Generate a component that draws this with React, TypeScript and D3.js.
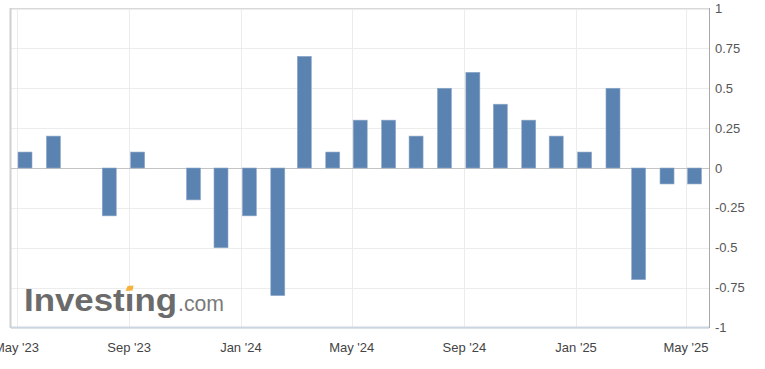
import React, { useLayoutEffect, useRef, useState } from "react";
import * as d3 from "d3";

const months: string[] = [
  "2023-05", "2023-06", "2023-07", "2023-08", "2023-09", "2023-10", "2023-11", "2023-12",
  "2024-01", "2024-02", "2024-03", "2024-04", "2024-05", "2024-06", "2024-07", "2024-08",
  "2024-09", "2024-10", "2024-11", "2024-12", "2025-01", "2025-02", "2025-03", "2025-04", "2025-05",
];
const values: number[] = [
  0.1, 0.2, 0, -0.3, 0.1, 0, -0.2, -0.5,
  -0.3, -0.8, 0.7, 0.1, 0.3, 0.3, 0.2, 0.5,
  0.6, 0.4, 0.3, 0.2, 0.1, 0.5, -0.7, -0.1, -0.1,
];
const yTicks: number[] = [1, 0.75, 0.5, 0.25, 0, -0.25, -0.5, -0.75, -1];
const xTickDates: string[] = ["2023-05", "2023-09", "2024-01", "2024-05", "2024-09", "2025-01", "2025-05"];
const xTickLabels: string[] = ["May '23", "Sep '23", "Jan '24", "May '24", "Sep '24", "Jan '25", "May '25"];

const W = 765;
const H = 369;
const left = 11;
const right = 709;
const top = 8.5;
const bottom = 327.5;

const parse = d3.timeParse("%Y-%m");

export default function App() {
  const x = d3
    .scaleTime()
    .domain([parse("2023-05") as Date, parse("2025-05") as Date])
    .range([16.5, 686]);
  const y = d3.scaleLinear().domain([-1, 1]).range([bottom, top]);
  const barW = 14;
  const font = "'Liberation Sans', Arial, sans-serif";

  const wmRef = useRef<SVGTextElement>(null);
  const [dotX, setDotX] = useState(127);
  useLayoutEffect(() => {
    const el = wmRef.current;
    if (!el) return;
    try {
      const ext = el.getExtentOfChar(6);
      setDotX(ext.x + ext.width / 2);
    } catch (e) {
      /* keep default */
    }
  }, []);

  return (
    <svg
      width={W}
      height={H}
      style={{ position: "absolute", left: 0, top: 0, background: "#fff" }}
      fontFamily={font}
    >
      {/* horizontal grid */}
      {yTicks.map((t) => (
        <line
          key={"h" + t}
          x1={left}
          x2={right}
          y1={Math.round(y(t)) + 0.5}
          y2={Math.round(y(t)) + 0.5}
          stroke="#ececec"
        />
      ))}
      {/* vertical grid */}
      {xTickDates.map((d) => {
        const xx = Math.round(x(parse(d) as Date)) + 0.5;
        return <line key={"v" + d} x1={xx} x2={xx} y1={top} y2={bottom} stroke="#ececec" />;
      })}
      {/* plot border */}
      <line x1={left} x2={right} y1={8.5} y2={8.5} stroke="#d9d9d9" />
      <line x1={10.5} x2={10.5} y1={8} y2={328} stroke="#d0d0d0" strokeWidth={2} />
      <line x1={left} x2={right} y1={327.5} y2={327.5} stroke="#ccd6e3" strokeWidth={2} />
      <line x1={709.5} x2={709.5} y1={8} y2={328} stroke="#a8a8a8" />

      {/* watermark */}
      <g fill="#6b6b6b">
        <text
          ref={wmRef}
          x={24}
          y={311}
          fontSize={31}
          fontWeight="bold"
          textLength={153}
          lengthAdjust="spacingAndGlyphs"
        >
          Investıng
        </text>
        <text x={178} y={311} fontSize={22} fill="#7a7a7a" textLength={46} lengthAdjust="spacingAndGlyphs">
          .com
        </text>
        <path
          d={`M${dotX - 4},291 L${dotX - 2},286 L${dotX + 4},285.5 L${dotX + 3},290.5 Z`}
          fill="#f6b23c"
        />
      </g>

      {/* zero line */}
      <line x1={left} x2={right} y1={Math.round(y(0)) + 0.5} y2={Math.round(y(0)) + 0.5} stroke="#c4c4c4" />

      {/* bars */}
      {values.map((v, i) => {
        if (v === 0) return null;
        const x0 = x(parse(months[i]) as Date) + 1.5;
        const y0 = y(Math.max(0, v));
        const y1 = y(Math.min(0, v));
        return (
          <rect
            key={months[i]}
            x={x0}
            y={y0}
            width={barW}
            height={y1 - y0}
            fill="#5b83b1"
            stroke="#8fa9c8"
            strokeWidth={0.6}
          />
        );
      })}

      {/* y labels */}
      {yTicks.map((t) => (
        <text key={"yl" + t} x={715} y={y(t)} dy="0.35em" fontSize={13} fill="#555">
          {String(t)}
        </text>
      ))}
      {/* x labels */}
      {xTickDates.map((d, i) => (
        <text
          key={"xl" + d}
          x={x(parse(d) as Date)}
          y={352}
          textAnchor="middle"
          fontSize={13}
          fill="#444"
        >
          {xTickLabels[i]}
        </text>
      ))}
    </svg>
  );
}
